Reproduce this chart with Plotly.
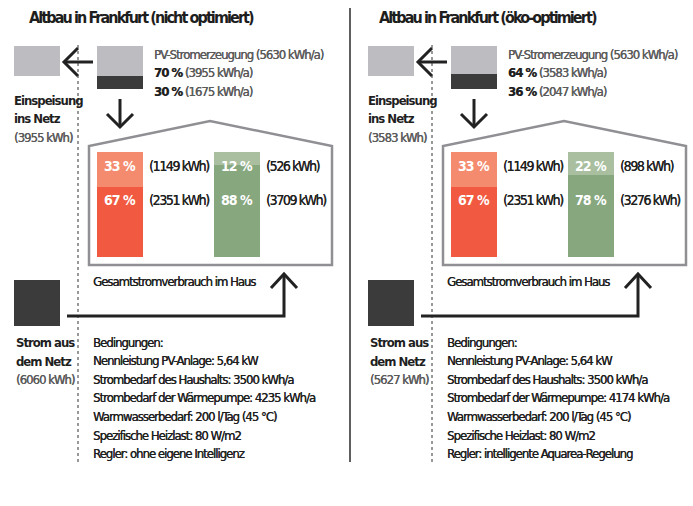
import plotly.graph_objects as go

W, H = 693, 506

# ---- data ---------------------------------------------------------------
titles = ["Altbau in Frankfurt (nicht optimiert)", "Altbau in Frankfurt (öko-optimiert)"]
pv_total_kwh = [5630, 5630]
pv_feed_pct = [70, 64]
pv_feed_kwh = [3955, 3583]
pv_self_pct = [30, 36]
pv_self_kwh = [1675, 2047]
household_pv_pct = [33, 33]
household_pv_kwh = [1149, 1149]
household_grid_pct = [67, 67]
household_grid_kwh = [2351, 2351]
heatpump_pv_pct = [12, 22]
heatpump_pv_kwh = [526, 898]
heatpump_grid_pct = [88, 78]
heatpump_grid_kwh = [3709, 3276]
grid_import_kwh = [6060, 5627]
pv_rated_kw = ["5,64", "5,64"]
household_demand = [3500, 3500]
heatpump_demand = [4235, 4174]
controller = ["ohne eigene Intelligenz", "intelligente Aquarea-Regelung"]

# ---- styling ------------------------------------------------------------
FONT = "DejaVu Sans Condensed"
DARK_TXT = "#1f1f1f"
GREY_TXT = "#5a5a5a"
PV_GREY = "#bdbdc1"
GRID_DARK = "#3b3b3b"
RED_LIGHT, RED_DARK = "#f48b6e", "#f15a40"
GREEN_LIGHT, GREEN_DARK = "#a9bf9f", "#87a77f"
HOUSE_LINE = "#8f8f94"
OFFSET = [0, 354]

fig = go.Figure()

def py(v):
    return 1 - v / H

shapes = []
annotations = []

def text(x, y, s, size=13, color=DARK_TXT, bold=False, xanchor="left", track=-1.0, heavy=True):
    body = f"<b>{s}</b>" if bold else s
    body = f"<span style='letter-spacing:{track}px'>{body}</span>"
    font = dict(family=FONT, size=size, color=color)
    if heavy and not bold:
        # thicken the thin strokes a little
        font["shadow"] = f"0.35px 0px 0px {color}"
    annotations.append(dict(
        x=x, y=y, xref="x", yref="y", text=body,
        showarrow=False, xanchor=xanchor, yanchor="middle", font=font))

def path(d, color="#222222", width=3, fill=None):
    shp = dict(type="path", path=d, xref="x", yref="y",
               line=dict(color=color, width=width))
    if fill:
        shp["fillcolor"] = fill
    shapes.append(shp)

def rect(x0, y0, x1, y1, fill):
    shapes.append(dict(type="rect", x0=x0, y0=y0, x1=x1, y1=y1, xref="x", yref="y",
                       line=dict(width=0), fillcolor=fill))

pv_bar_x, house_bar_x, hp_bar_x = [], [], []
for i, dx in enumerate(OFFSET):
    # title
    text(27 + dx - (4 if i else 0), 17, titles[i], size=16, bold=True, color="#1e1e1e", track=-1.9)
    # PV export box and arrow
    rect(14 + dx, 46, 60 + dx, 76, PV_GREY)
    path(f"M {64+dx} 62 L {93+dx} 62", width=3)
    path(f"M {78+dx} 48 L {64+dx} 62 L {78+dx} 76", width=3)
    # down arrow into the house
    path(f"M {120+dx} 99 L {120+dx} 127", width=3)
    path(f"M {107+dx} 114 L {120+dx} 127 L {133+dx} 114", width=3)
    # dotted guide
    shapes.append(dict(type="line", x0=78 + dx, x1=78 + dx, y0=45, y1=463, xref="x", yref="y",
                       line=dict(color="#333333", width=1, dash="dot")))
    # house outline
    path(f"M {89+dx} 265 L {89+dx} 146 L {210+dx} 121 L {332+dx} 146 L {332+dx} 265 Z",
         color=HOUSE_LINE, width=2.5)
    # grid box and supply arrow
    rect(14 + dx, 280, 60 + dx, 326, GRID_DARK)
    path(f"M {67+dx} 316 L {284+dx} 316 L {284+dx} 275", width=3)
    path(f"M {271+dx} 288 L {284+dx} 274 L {297+dx} 288", width=3)

    # PV texts
    text(152 + dx, 54, f"PV-Stromerzeugung ({pv_total_kwh[i]} kWh/a)", color=GREY_TXT)
    text(152 + dx, 72.5, f"<b style='color:{DARK_TXT}'>{pv_feed_pct[i]} %</b> ({pv_feed_kwh[i]} kWh/a)", color=GREY_TXT)
    text(152 + dx, 91, f"<b style='color:{DARK_TXT}'>{pv_self_pct[i]} %</b> ({pv_self_kwh[i]} kWh/a)", color=GREY_TXT)

    text(12 + dx, 100, "Einspeisung", bold=True)
    text(12 + dx, 118, "ins Netz", bold=True)
    text(12 + dx, 137, f"({pv_feed_kwh[i]} kWh)", color=GREY_TXT)

    # bar labels
    hx, gx = 120 + dx, 237 + dx
    pv_bar_x.append(120 + dx)
    house_bar_x.append(hx)
    hp_bar_x.append(gx)
    for (bx, by, pct) in [(hx, 166, household_pv_pct[i]), (hx, 200, household_grid_pct[i]),
                          (gx, 166, heatpump_pv_pct[i]), (gx, 200, heatpump_grid_pct[i])]:
        text(bx, by, f"{pct} %", size=14, color="white", bold=True, xanchor="center", track=-1.0)
    text(147 + dx, 166, f"({household_pv_kwh[i]} kWh)", size=14, track=-1.4)
    text(147 + dx, 200, f"({household_grid_kwh[i]} kWh)", size=14, track=-1.4)
    text(264 + dx, 166, f"({heatpump_pv_kwh[i]} kWh)", size=14, track=-1.4)
    text(264 + dx, 200, f"({heatpump_grid_kwh[i]} kWh)", size=14, track=-1.4)

    text(91 + dx, 281, "Gesamtstromverbrauch im Haus")

    text(14 + dx, 342, "Strom aus", bold=True)
    text(14 + dx, 361, "dem Netz", bold=True)
    text(14 + dx, 379, f"({grid_import_kwh[i]} kWh)", color=GREY_TXT)

    cond = ["Bedingungen:",
            f"Nennleistung PV-Anlage: {pv_rated_kw[i]} kW",
            f"Strombedarf des Haushalts: {household_demand[i]} kWh/a",
            f"Strombedarf der Wärmepumpe: {heatpump_demand[i]} kWh/a",
            "Warmwasserbedarf: 200 l/Tag (45 °C)",
            "Spezifische Heizlast: 80 W/m2",
            f"Regler: {controller[i]}"]
    for k, line in enumerate(cond):
        text(91 + dx, 342 + k * 18.6, line)

# panel separator
shapes.append(dict(type="line", x0=350, x1=350, y0=8, y1=462, xref="x", yref="y",
                   line=dict(color="#2a2a2a", width=1.5)))

# PV generation bars: self-used share (bottom) + fed-in share (top)
fig.add_trace(go.Bar(x=pv_bar_x, y=pv_self_pct, width=46, xaxis="x", yaxis="y3",
                     marker=dict(color=GRID_DARK, line=dict(width=0)), hoverinfo="skip"))
fig.add_trace(go.Bar(x=pv_bar_x, y=pv_feed_pct, width=46, xaxis="x", yaxis="y3",
                     marker=dict(color=PV_GREY, line=dict(width=0)), hoverinfo="skip"))

# house consumption bars: grid share (bottom) + PV share (top)
fig.add_trace(go.Bar(x=house_bar_x + hp_bar_x, y=household_grid_pct + heatpump_grid_pct, width=46,
                     xaxis="x", yaxis="y2", hoverinfo="skip",
                     marker=dict(color=[RED_DARK] * 2 + [GREEN_DARK] * 2, line=dict(width=0))))
fig.add_trace(go.Bar(x=house_bar_x + hp_bar_x, y=household_pv_pct + heatpump_pv_pct, width=46,
                     xaxis="x", yaxis="y2", hoverinfo="skip",
                     marker=dict(color=[RED_LIGHT] * 2 + [GREEN_LIGHT] * 2, line=dict(width=0))))

hidden = dict(visible=False, showgrid=False, zeroline=False, fixedrange=True)
fig.update_layout(
    width=W, height=H, margin=dict(l=0, r=0, t=0, b=0),
    paper_bgcolor="white", plot_bgcolor="rgba(0,0,0,0)",
    showlegend=False, barmode="stack",
    xaxis=dict(range=[0, W], domain=[0, 1], **hidden),
    yaxis=dict(range=[H, 0], domain=[0, 1], **hidden),
    yaxis2=dict(range=[0, 100], domain=[py(257), py(152)], anchor="x", **hidden),
    yaxis3=dict(range=[0, 100], domain=[py(89), py(46)], anchor="x", **hidden),
    shapes=shapes, annotations=annotations,
)

fig.write_html("out.html")
